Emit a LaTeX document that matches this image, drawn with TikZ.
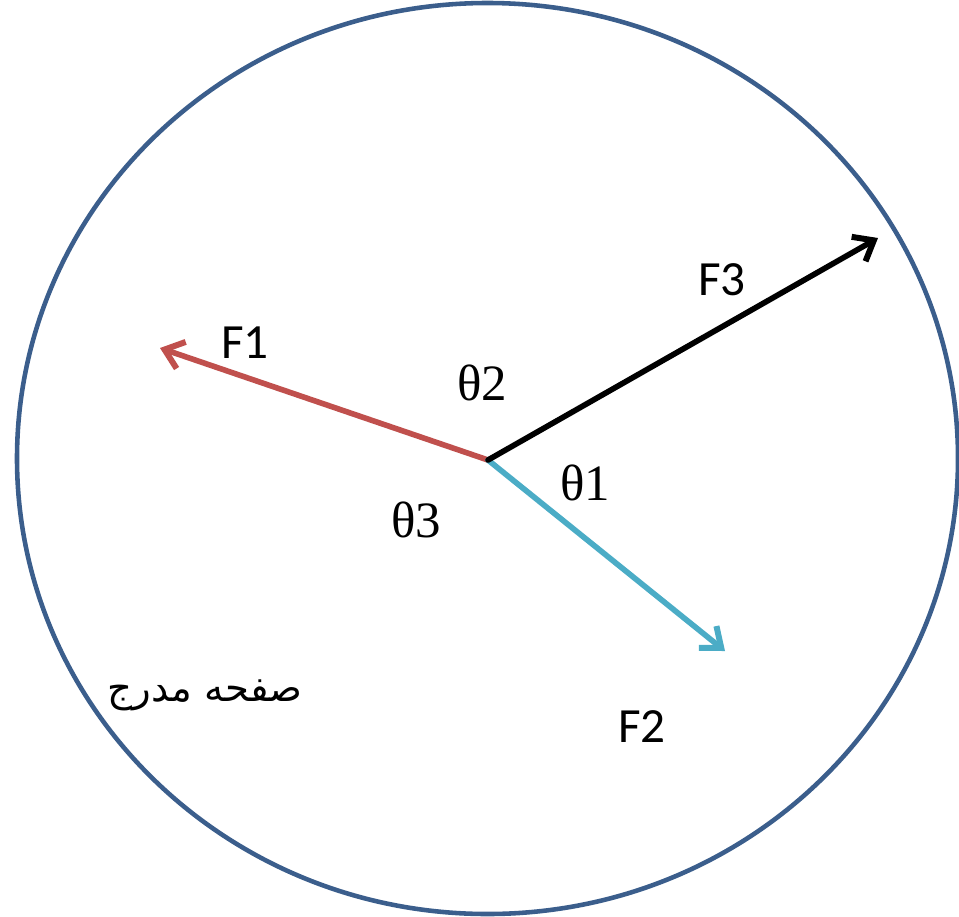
\documentclass[tikz,border=0pt]{standalone}
\usepackage{fontspec}
\setmainfont{Liberation Serif}
\newfontfamily\labelfont{Carlito}
\newfontfamily\arabicfont[Script=Arabic]{DejaVu Sans}
\TeXXeTstate=1
\usepackage{xcolor}
\usetikzlibrary{arrows.meta}

\definecolor{rimblue}{HTML}{3B5E8C}
\definecolor{forcered}{HTML}{C0504D}
\definecolor{forcecyan}{HTML}{4BACC6}

\begin{document}
\begin{tikzpicture}[x=0.02cm, y=-0.02cm,
  force/.style={line width=3.2pt, line cap=round,
    -{Straight Barb[length=10pt, width=16pt, line width=3.4pt]}},
  flab/.style={font=\labelfont\fontsize{28}{32}\selectfont},
  ang/.style={font=\fontsize{29}{32}\selectfont}]
  \useasboundingbox (0,0) rectangle (959,916);
  % graduated disc
  \draw[rimblue, line width=2.6pt] (487.5,458.5) ellipse [x radius=470.5, y radius=455.5];
  % force directions
  \coordinate (o) at (488,460);
  \coordinate (t1) at (160,348);
  \coordinate (t2) at (725,651);
  \coordinate (t3) at (878,238);
  \draw[force, forcered]  (o) -- (t1);
  \draw[force, forcecyan] (o) -- (t2);
  \draw[force, black]     (o) -- (t3);
  % labels
  \node[flab] (f1) at (245,343) {F1};
  \node[flab] (f3) at (722,280) {F3};
  \node[flab] (f2) at (642,727) {F2};
  \node[ang] (th2) at (482,383) {θ2};
  \node[ang] (th1) at (585,483) {θ1};
  \node[ang] (th3) at (416,520) {θ3};
  \node[font=\arabicfont\fontsize{22}{26}\selectfont] (disc) at (205,695) {\beginR صفحه مدرج\endR};
\end{tikzpicture}
\end{document}
